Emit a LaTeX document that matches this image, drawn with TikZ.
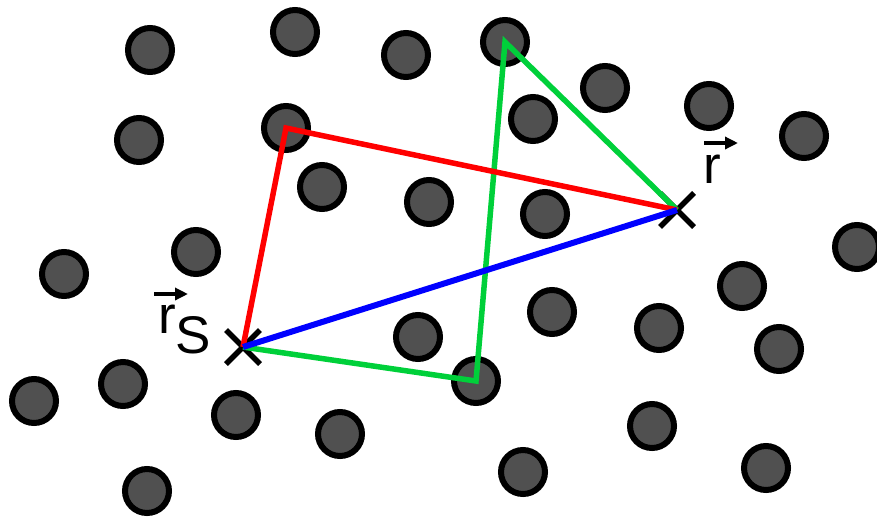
\documentclass[tikz,border=0pt]{standalone}
\usepackage{fontspec}
\setmainfont{Liberation Sans}
\usetikzlibrary{arrows.meta,calc}
\definecolor{dotgrey}{HTML}{505050}
\definecolor{pathred}{HTML}{FF0000}
\definecolor{pathblue}{HTML}{0000FF}
\definecolor{pathgreen}{HTML}{00D03A}
\tikzset{
  dot/.style={circle,draw=black,fill=dotgrey,line width=6pt,minimum size=44pt,inner sep=0pt},
  xmark/.style={line width=5.5pt,black},
  pathline/.style={line width=5.5pt,line join=miter},
  vecarrow/.style={line width=4pt,-{Triangle[length=13pt,width=12pt]}},
  lbl/.style={inner sep=0pt,font=\fontsize{53}{53}\selectfont}
}
\begin{document}
\begin{tikzpicture}[x=1pt,y=-1pt]
\useasboundingbox (0,0) rectangle (877,517);
% scatterers
\foreach \n/\x/\y in {a1/150/50, a2/295/32, a3/406/55, a4/505/42, a5/605/88, a6/709/106, a7/804/136,
  b1/139/140, b2/286/128, b3/533/119, c1/322/187, c2/429/202, c3/545/214,
  d1/857/247, d2/196/252, d3/64/274, d4/742/286, e1/552/312, e2/418/337, e3/659/328, e4/779/349,
  f1/123/384, f2/34/401, f3/476/381, f4/236/415, f5/340/434, g1/652/426, g2/523/472, g3/766/468, g4/147/491}
  \node[dot] (\n) at (\x,\y) {};
% source and receiver
\coordinate (rs) at (243,347);
\coordinate (rr) at (677,210);
\draw[xmark] ($(rs)+(-17,-17)$) -- ($(rs)+(17,17)$) ($(rs)+(-17,17)$) -- ($(rs)+(17,-17)$);
\draw[xmark] ($(rr)+(-17,-17)$) -- ($(rr)+(17,17)$) ($(rr)+(-17,17)$) -- ($(rr)+(17,-17)$);
% paths
\draw[pathline,pathgreen] (rs) -- (f3.center) -- (a4.center) -- (rr);
\draw[pathline,pathred] (rs) -- (b2.center) -- (rr);
\draw[pathline,pathblue,line width=6pt] (rs) -- (rr);
% labels
\node[lbl,anchor=base west] (rlab) at (703,183) {r};
\draw[vecarrow] (704,143) -- (738,143);
\node[lbl,anchor=base west] (rslab) at (158,333) {r};
\node[lbl,anchor=base west] (slab) at (175,353) {S};
\draw[vecarrow] (154,294) -- (188,294);
\end{tikzpicture}
\end{document}
